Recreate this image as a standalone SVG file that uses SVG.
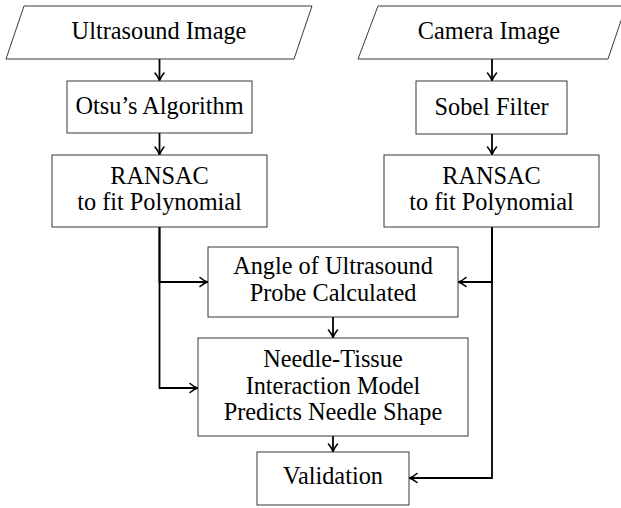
<svg xmlns="http://www.w3.org/2000/svg" width="621" height="508" viewBox="0 0 621 508">
<style>
.box{fill:#fff;stroke:#222;stroke-width:0.9}
.t{font-family:"Liberation Serif","Times New Roman",serif;font-size:24.3px;fill:#000;text-anchor:middle}
.c{fill:none;stroke:#000;stroke-width:1.8;marker-end:url(#arr)}
</style>
<defs>
<marker id="arr" markerUnits="userSpaceOnUse" viewBox="-10 -6 12 12" refX="0" refY="0" markerWidth="12" markerHeight="12" orient="auto">
<path d="M-7.5,-4.5 C-4.5,-2 -1.5,-0.5 0,0 C-1.5,0.5 -4.5,2 -7.5,4.5" fill="none" stroke="#000" stroke-width="1.6" stroke-linecap="round"/>
</marker>
</defs>
<g id="connectors">
<path class="c" d="M159.5,59 V80.5"/>
<path class="c" d="M159.5,133 V154.5"/>
<path class="c" d="M492,59 V80.5"/>
<path class="c" d="M492,134 V154.5"/>
<path class="c" d="M159.5,227 V282 H207.5"/>
<path class="c" d="M159.5,227 V388 H197.5"/>
<path class="c" d="M492,227 V282 H458.5"/>
<path class="c" d="M492,227 V478 H409.5"/>
<path class="c" d="M333,317 V337.5"/>
<path class="c" d="M333,436 V451.5"/>
</g>
<g id="ultrasound">
<polygon class="box" points="24,6 312,6 294,59 6,59"/>
<text class="t" x="159" y="39">Ultrasound Image</text>
</g>
<g id="camera">
<polygon class="box" points="378,6 626,6 608,59 358,59"/>
<text class="t" x="489" y="39">Camera Image</text>
</g>
<g id="otsu">
<rect class="box" x="67" y="81" width="185" height="52"/>
<text class="t" x="159.5" y="114">Otsu’s Algorithm</text>
</g>
<g id="sobel">
<rect class="box" x="416" y="81" width="151" height="53"/>
<text class="t" x="491.5" y="115">Sobel Filter</text>
</g>
<g id="ransac-left">
<rect class="box" x="52" y="155" width="215" height="72"/>
<text class="t" x="159.5" y="184">RANSAC</text>
<text class="t" x="159.5" y="210">to fit Polynomial</text>
</g>
<g id="ransac-right">
<rect class="box" x="384" y="155" width="215" height="72"/>
<text class="t" x="491.5" y="184">RANSAC</text>
<text class="t" x="491.5" y="210">to fit Polynomial</text>
</g>
<g id="angle">
<rect class="box" x="208" y="247" width="250" height="70"/>
<text class="t" x="333" y="274">Angle of Ultrasound</text>
<text class="t" x="333" y="301">Probe Calculated</text>
</g>
<g id="needle">
<rect class="box" x="198" y="338" width="270" height="98"/>
<text class="t" x="333" y="367">Needle-Tissue</text>
<text class="t" x="333" y="393.5">Interaction Model</text>
<text class="t" x="333" y="420">Predicts Needle Shape</text>
</g>
<g id="validation">
<rect class="box" x="257" y="452" width="152" height="53"/>
<text class="t" x="333" y="484">Validation</text>
</g>
</svg>
